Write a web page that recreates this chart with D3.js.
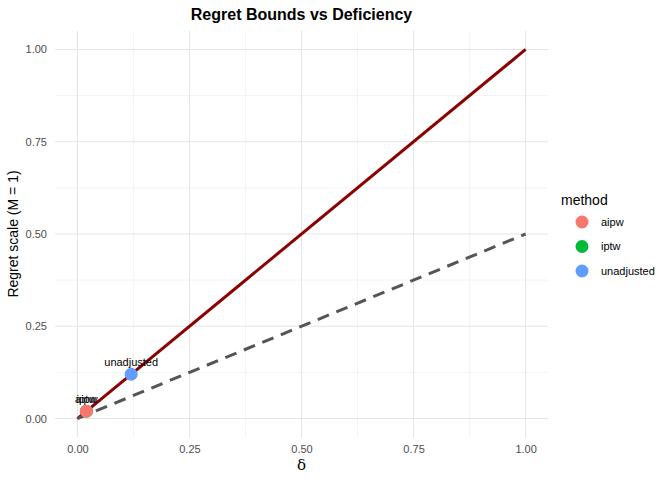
<!DOCTYPE html>
<html>
<head>
<meta charset="utf-8">
<script src="https://cdn.jsdelivr.net/npm/d3@7"></script>
<style>
  body { margin: 0; background: #fff; }
  text { font-family: "Liberation Sans", Arial, sans-serif; }
</style>
</head>
<body>
<svg id="chart" width="672" height="480"></svg>
<script>
// data
const methods = ['aipw', 'iptw', 'unadjusted'];
const deficiency = [0.02, 0.02, 0.12];
const regret = [0.02, 0.02, 0.12];
const methodColors = ['#F8766D', '#00BA38', '#619CFF'];
const boundX = [0, 1];
const upperBound = [0, 1];
const lowerBound = [0, 0.5];
const tickValues = [0, 0.25, 0.5, 0.75, 1];

const margin = {top: 31, right: 124, bottom: 43, left: 55},
    width = 672 - margin.left - margin.right,
    height = 480 - margin.top - margin.bottom;

const svg = d3.select('#chart');
const g = svg.append('g')
    .attr('transform', `translate(${margin.left}, ${margin.top})`);

const x = d3.scaleLinear().domain([-0.05, 1.05]).range([0, width]);
const y = d3.scaleLinear().domain([-0.05, 1.05]).range([height, 0]);
const color = d3.scaleOrdinal().domain(methods).range(methodColors);

// minor grid
const minor = [0.125, 0.375, 0.625, 0.875];
g.selectAll('.minorx').data(minor).enter().append('line')
    .attr('x1', d => x(d)).attr('x2', d => x(d))
    .attr('y1', 0).attr('y2', height)
    .attr('stroke', '#ebebeb').attr('stroke-width', 0.6);
g.selectAll('.minory').data(minor).enter().append('line')
    .attr('y1', d => y(d)).attr('y2', d => y(d))
    .attr('x1', 0).attr('x2', width)
    .attr('stroke', '#ebebeb').attr('stroke-width', 0.6);

// major grid
g.selectAll('.majorx').data(tickValues).enter().append('line')
    .attr('x1', d => x(d)).attr('x2', d => x(d))
    .attr('y1', 0).attr('y2', height)
    .attr('stroke', '#e5e5e5').attr('stroke-width', 1.1);
g.selectAll('.majory').data(tickValues).enter().append('line')
    .attr('y1', d => y(d)).attr('y2', d => y(d))
    .attr('x1', 0).attr('x2', width)
    .attr('stroke', '#e5e5e5').attr('stroke-width', 1.1);

// axes (labels only, theme_minimal)
const xAxis = g.append('g')
    .attr('transform', `translate(0, ${height})`)
    .call(d3.axisBottom(x).tickValues(tickValues).tickFormat(d3.format('.2f')).tickSize(0).tickPadding(8));
const yAxis = g.append('g')
    .call(d3.axisLeft(y).tickValues(tickValues).tickFormat(d3.format('.2f')).tickSize(0).tickPadding(8));
[xAxis, yAxis].forEach(a => {
    a.select('.domain').remove();
    a.selectAll('text').style('font-size', '11px').attr('fill', '#4d4d4d')
        .style('font-family', '"Liberation Sans", Arial, sans-serif');
});

// bound lines
const line = d3.line().x(d => x(d[0])).y(d => y(d[1]));
g.append('path')
    .datum(boundX.map((v, i) => [v, upperBound[i]]))
    .attr('d', line)
    .attr('fill', 'none')
    .attr('stroke', '#8B0000')
    .attr('stroke-width', 3);
g.append('path')
    .datum(boundX.map((v, i) => [v, lowerBound[i]]))
    .attr('d', line)
    .attr('fill', 'none')
    .attr('stroke', '#555555')
    .attr('stroke-width', 3)
    .attr('stroke-dasharray', '12,8');

// points (aipw drawn last so it sits on top, as in the original)
const pts = methods.map((m, i) => ({method: m, x: deficiency[i], y: regret[i]})).reverse();
g.selectAll('.dot').data(pts).enter().append('circle')
    .attr('cx', d => x(d.x))
    .attr('cy', d => y(d.y))
    .attr('r', 6.5)
    .attr('fill', d => color(d.method));

g.selectAll('.lbl').data(pts).enter().append('text')
    .attr('x', d => x(d.x))
    .attr('y', d => y(d.y) - 8)
    .attr('text-anchor', 'middle')
    .style('font-size', '11px')
    .attr('fill', '#000')
    .text(d => d.method);

// title
svg.append('text')
    .attr('x', margin.left + width / 2)
    .attr('y', 20)
    .attr('text-anchor', 'middle')
    .style('font-size', '16px')
    .style('font-weight', 'bold')
    .text('Regret Bounds vs Deficiency');

// axis titles
svg.append('text')
    .attr('x', margin.left + width / 2)
    .attr('y', 470)
    .attr('text-anchor', 'middle')
    .style('font-size', '15px')
    .style('font-family', '"DejaVu Serif", "Liberation Serif", serif')
    .text('δ');
svg.append('text')
    .attr('transform', `translate(18, ${margin.top + height / 2}) rotate(-90)`)
    .attr('text-anchor', 'middle')
    .style('font-size', '14px')
    .text('Regret scale (M = 1)');

// legend
const legend = svg.append('g').attr('transform', 'translate(561, 0)');
legend.append('text')
    .attr('x', 0).attr('y', 205)
    .style('font-size', '14px')
    .text('method');
methods.forEach((m, i) => {
    legend.append('circle')
        .attr('cx', 21).attr('cy', 222 + i * 24.5)
        .attr('r', 6.5)
        .attr('fill', color(m));
    legend.append('text')
        .attr('x', 40).attr('y', 222 + i * 24.5)
        .attr('dy', '0.35em')
        .style('font-size', '11px')
        .text(m);
});
</script>
</body>
</html>
